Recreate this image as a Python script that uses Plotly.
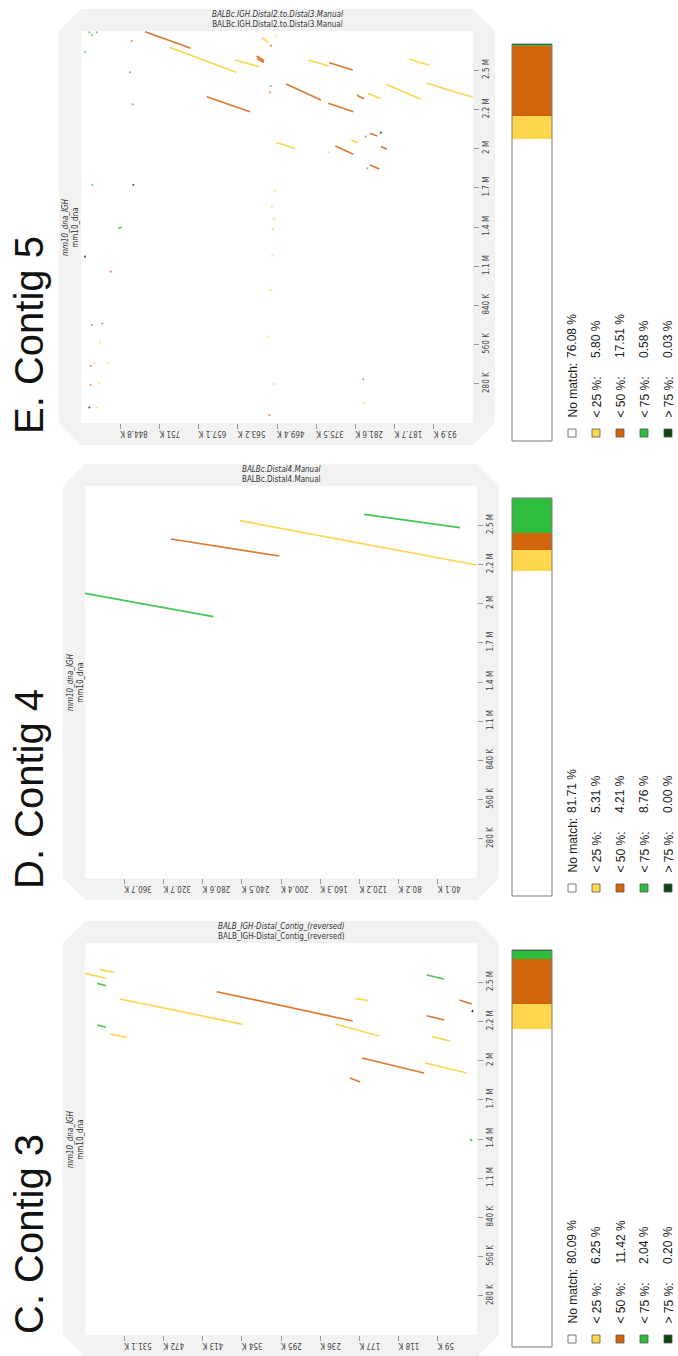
import plotly.graph_objects as go

# ---------------------------------------------------------------- data (kb)
# reference (mm10_dna_IGH) length and tick labels, shared by all panels
REF_LEN = 2800.0
REF_TICK_LABELS = ["280 K", "560 K", "840 K", "1.1 M", "1.4 M", "1.7 M", "2 M", "2.2 M", "2.5 M"]

CLASS_NAMES = ["No match:", "< 25 %:", "< 50 %:", "< 75 %:", "> 75 %:"]
BAR_COLORS = ["#ffffff", "#fed74f", "#d2650c", "#2fbd3e", "#0b4410"]
LINE_COLORS = ["#ffffff", "#fdd650", "#dd7832", "#44c653", "#0b4410"]

# ---- E. Contig 5
E_QUERY_LEN = 938.7
E_QUERY_TICK_LABELS = ["93.9 K", "187.7 K", "281.6 K", "375.5 K", "469.4 K",
                       "563.2 K", "657.1 K", "751 K", "844.8 K"]
E_PERCENT = [76.08, 5.80, 17.51, 0.58, 0.03]
E_LT25_SEG = [(727.2, 2683.6, 567.5, 2505.0), (569.9, 2592.9, 511.7, 2545.0),
              (506.0, 2755.0, 490.2, 2716.4), (394.4, 2592.9, 346.5, 2552.1),
              (152.5, 2597.9, 104.6, 2555.0), (208.3, 2419.3, 124.5, 2312.1),
              (110.9, 2426.4, 0.7, 2326.4), (252.2, 2355.0, 221.0, 2316.4),
              (471.7, 2003.6, 426.2, 1962.1), (292.9, 2021.4, 275.4, 2002.1)]
E_LT25_DOT = [(471.7, 2766.4), (345.5, 1933.6), (474.1, 1659.3), (482.0, 1545.0),
              (476.5, 1457.1), (479.6, 1383.6), (480.6, 1195.0), (484.4, 950.0),
              (490.2, 616.4), (893.2, 576.4), (906.8, 426.4), (875.7, 426.4),
              (894.9, 283.6), (901.1, 110.7), (475.8, 278.6), (262.7, 140.7)]
E_LT50_SEG = [(785.4, 2795.0, 676.0, 2676.4), (518.0, 2621.4, 500.5, 2587.9),
              (517.2, 2603.6, 500.5, 2575.0), (344.1, 2573.6, 288.1, 2521.4),
              (447.8, 2421.4, 364.0, 2307.1), (637.7, 2330.7, 534.0, 2223.6),
              (346.5, 2283.6, 286.6, 2223.6), (276.1, 2337.9, 261.0, 2316.4),
              (246.6, 2069.3, 229.2, 2050.0), (329.7, 1978.6, 286.6, 1919.3),
              (221.0, 1975.0, 206.7, 1955.0), (246.6, 1842.9, 224.4, 1814.3)]
E_LT50_DOT = [(483.7, 2695.0), (486.1, 2362.1), (901.1, 2790.7), (817.3, 2728.6),
              (821.3, 2505.0), (814.9, 2276.4), (867.6, 1080.7), (913.1, 700.0),
              (887.7, 710.7), (915.5, 407.1), (915.5, 271.4), (487.8, 57.1),
              (262.7, 312.1)]
E_LT75_SEG = [(849.4, 1390.7, 841.2, 1397.9)]
E_LT75_DOT = [(276.1, 2340.7), (484.4, 2407.1), (918.8, 2790.7), (912.3, 2771.4),
              (929.1, 2647.9), (256.9, 2045.0), (253.1, 1819.3), (911.6, 1700.0)]
E_GT75_SEG = []
E_GT75_DOT = [(221.0, 2073.6), (813.4, 1700.0), (929.1, 1187.9), (918.8, 110.7)]

# ---- D. Contig 4
D_QUERY_LEN = 400.82
D_QUERY_TICK_LABELS = ["40.1 K", "80.2 K", "120.2 K", "160.3 K", "200.4 K",
                       "240.5 K", "280.6 K", "320.7 K", "360.7 K"]
D_PERCENT = [81.71, 5.31, 4.21, 8.76, 0.00]
D_LT25_SEG = [(242.3, 2552.1, 0.3, 2235.7)]
D_LT50_SEG = [(312.9, 2421.4, 202.1, 2300.0)]
D_LT75_SEG = [(400.8, 2033.6, 269.6, 1866.4), (115.5, 2597.9, 17.4, 2502.1)]
D_GT75_SEG = []

# ---- C. Contig 3
C_QUERY_LEN = 590.1
C_QUERY_TICK_LABELS = ["59 K", "118 K", "177 K", "236 K", "295 K",
                       "354 K", "413 K", "472 K", "531.1 K"]
C_PERCENT = [80.09, 6.25, 11.42, 2.04, 0.20]
C_LT25_SEG = [(590.1, 2583.6, 558.5, 2547.9), (567.5, 2609.3, 546.4, 2590.7),
              (537.4, 2400.0, 352.7, 2219.3), (183.2, 2405.0, 163.6, 2387.9),
              (552.5, 2150.0, 527.3, 2126.4), (213.3, 2221.4, 147.1, 2135.7),
              (67.3, 2130.7, 40.6, 2100.0), (78.3, 1942.9, 15.1, 1871.4)]
C_LT50_SEG = [(391.8, 2452.1, 187.1, 2242.9), (26.6, 2392.9, 8.0, 2364.3),
              (75.7, 2280.7, 49.7, 2250.0), (173.1, 1978.6, 79.8, 1871.4),
              (191.2, 1835.7, 176.1, 1807.1)]
C_LT75_SEG = [(571.6, 2512.1, 558.5, 2495.0), (75.7, 2571.4, 49.7, 2542.9),
              (571.6, 2214.3, 558.5, 2197.9), (10.5, 1400.0, 7.5, 1385.7)]
C_GT75_SEG = [(7.5, 2307.0, 6.0, 2321.0)]

# ---------------------------------------------------------------- layout helpers
W, H = 678, 1356
NARROW = "Liberation Sans Narrow, DejaVu Sans Condensed, Arial Narrow, sans-serif"
SANS = "Liberation Sans, Arial, Helvetica, sans-serif"


def fx(x):
    return x / W


def fy(y):
    return 1 - y / H


PANELS = [
    dict(title="E. Contig 5", name="BALBc.IGH.Distal2.to.Distal3.Manual",
         qlen=E_QUERY_LEN, qlabels=E_QUERY_TICK_LABELS, pct=E_PERCENT,
         segs=[E_LT25_SEG, E_LT50_SEG, E_LT75_SEG, E_GT75_SEG],
         dots=[E_LT25_DOT, E_LT50_DOT, E_LT75_DOT, E_GT75_DOT],
         plot=(81, 31, 473, 423), bar=(512, 44, 552, 441), title_bottom=436),
    dict(title="D. Contig 4", name="BALBc.Distal4.Manual",
         qlen=D_QUERY_LEN, qlabels=D_QUERY_TICK_LABELS, pct=D_PERCENT,
         segs=[D_LT25_SEG, D_LT50_SEG, D_LT75_SEG, D_GT75_SEG],
         dots=[[], [], [], []],
         plot=(85, 486, 477, 878), bar=(512, 498, 552, 896), title_bottom=891),
    dict(title="C. Contig 3", name="BALB_IGH-Distal_Contig_(reversed)",
         qlen=C_QUERY_LEN, qlabels=C_QUERY_TICK_LABELS, pct=C_PERCENT,
         segs=[C_LT25_SEG, C_LT50_SEG, C_LT75_SEG, C_GT75_SEG],
         dots=[[], [], [], []],
         plot=(85, 943, 477, 1335), bar=(512, 950, 552, 1347), title_bottom=1336),
]

fig = go.Figure()
shapes, annotations = [], []
layout_axes = {}
FRAME = 22
LEGEND_X = [572, 596, 620, 644, 668]

for i, p in enumerate(PANELS):
    ax_plot = 2 * i + 1
    ax_bar = 2 * i + 2
    xs_p = "x" if ax_plot == 1 else f"x{ax_plot}"
    ys_p = "y" if ax_plot == 1 else f"y{ax_plot}"
    xs_b, ys_b = f"x{ax_bar}", f"y{ax_bar}"
    x0, y0, x1, y1 = p["plot"]

    # light grey frame with chamfered corners around the dot plot
    ox0, oy0, ox1, oy1 = x0 - FRAME, y0 - FRAME, x1 + FRAME, y1 + FRAME
    c = FRAME
    pts = [(ox0 + c, oy0), (ox1 - c, oy0), (ox1, oy0 + c), (ox1, oy1 - c),
           (ox1 - c, oy1), (ox0 + c, oy1), (ox0, oy1 - c), (ox0, oy0 + c)]
    path = "M " + " L ".join(f"{fx(a):.5f},{fy(b):.5f}" for a, b in pts) + " Z"
    shapes.append(dict(type="path", path=path, xref="paper", yref="paper",
                       fillcolor="#f2f2f2", line=dict(width=0), layer="below"))
    shapes.append(dict(type="rect", xref="paper", yref="paper",
                       x0=fx(x0), x1=fx(x1), y0=fy(y1), y1=fy(y0),
                       fillcolor="#ffffff", line=dict(width=0), layer="below"))

    # alignment segments and isolated hits, one trace per identity class
    for k in range(4):
        xs, ys = [], []
        for q0, r0, q1, r1 in p["segs"][k]:
            xs += [q0, q1, None]
            ys += [r0, r1, None]
        if xs:
            fig.add_trace(go.Scatter(x=xs, y=ys, mode="lines", xaxis=xs_p, yaxis=ys_p,
                                     line=dict(color=LINE_COLORS[k + 1], width=1.7),
                                     hoverinfo="skip", showlegend=False))
        if p["dots"][k]:
            fig.add_trace(go.Scatter(x=[d[0] for d in p["dots"][k]],
                                     y=[d[1] for d in p["dots"][k]],
                                     mode="markers", xaxis=xs_p, yaxis=ys_p,
                                     marker=dict(color=LINE_COLORS[k + 1], size=2.2,
                                                 opacity=0.8, line=dict(width=0)),
                                     hoverinfo="skip", showlegend=False))

    qticks = [p["qlen"] * j / 10 for j in range(1, 10)]
    rticks = [REF_LEN * j / 10 for j in range(1, 10)]
    tick_font = dict(family=NARROW, size=8, color="#444444")
    layout_axes["xaxis" if ax_plot == 1 else f"xaxis{ax_plot}"] = dict(
        domain=[fx(x0), fx(x1)], anchor=ys_p, range=[p["qlen"], 0],
        tickvals=qticks, ticktext=p["qlabels"], tickangle=180,
        ticks="outside", ticklen=5, tickcolor="#9a9a9a", tickwidth=1,
        tickfont=tick_font, showgrid=False, zeroline=False, showline=False)
    layout_axes["yaxis" if ax_plot == 1 else f"yaxis{ax_plot}"] = dict(
        domain=[fy(y1), fy(y0)], anchor=xs_p, side="right", range=[0, REF_LEN],
        tickvals=rticks, ticktext=REF_TICK_LABELS, tickangle=-90,
        ticks="outside", ticklen=5, tickcolor="#9a9a9a", tickwidth=1,
        tickfont=tick_font, showgrid=False, zeroline=False, showline=False)

    # stacked identity bar
    bx0, by0, bx1, by1 = p["bar"]
    for k in range(5):
        fig.add_trace(go.Bar(x=[0], y=[p["pct"][k]], width=1, xaxis=xs_b, yaxis=ys_b,
                             marker=dict(color=BAR_COLORS[k], line=dict(width=0)),
                             hoverinfo="skip", showlegend=False))
    layout_axes[f"xaxis{ax_bar}"] = dict(domain=[fx(bx0), fx(bx1)], anchor=ys_b,
                                         range=[-0.5, 0.5], visible=False)
    layout_axes[f"yaxis{ax_bar}"] = dict(domain=[fy(by1), fy(by0)], anchor=xs_b,
                                         range=[0, 100], visible=False)
    shapes.append(dict(type="rect", xref="paper", yref="paper",
                       x0=fx(bx0), x1=fx(bx1), y0=fy(by1), y1=fy(by0),
                       line=dict(color="#7a7a7a", width=1), fillcolor="rgba(0,0,0,0)",
                       layer="above"))

    # legend of identity classes
    for k in range(5):
        lx = LEGEND_X[k]
        sq = by1 - 8
        shapes.append(dict(type="rect", xref="paper", yref="paper",
                           x0=fx(lx - 4), x1=fx(lx + 4), y0=fy(sq + 4), y1=fy(sq - 4),
                           fillcolor=BAR_COLORS[k], line=dict(color="#555555", width=0.8)))
        annotations.append(dict(x=fx(lx), y=fy(by1 - 21), xref="paper", yref="paper",
                                text=CLASS_NAMES[k], textangle=-90, showarrow=False,
                                xanchor="center", yanchor="bottom",
                                font=dict(family=SANS, size=12, color="#1a1a1a")))
        annotations.append(dict(x=fx(lx), y=fy(by1 - 81), xref="paper", yref="paper",
                                text=f"{p['pct'][k]:.2f} %", textangle=-90, showarrow=False,
                                xanchor="center", yanchor="bottom",
                                font=dict(family=SANS, size=12, color="#1a1a1a")))

    # sequence names
    annotations.append(dict(x=fx((x0 + x1) / 2), y=fy(y0 - 11.5), xref="paper", yref="paper",
                            text=f"<i>{p['name']}</i><br>{p['name']}", showarrow=False,
                            xanchor="center", yanchor="middle",
                            font=dict(family=NARROW, size=8, color="#333333")))
    annotations.append(dict(x=fx(x0 - 10), y=fy((y0 + y1) / 2), xref="paper", yref="paper",
                            text="<i>mm10_dna_IGH</i><br>mm10_dna", textangle=-90,
                            showarrow=False, xanchor="center", yanchor="middle",
                            font=dict(family=NARROW, size=8, color="#333333")))
    # panel title
    annotations.append(dict(x=fx(29), y=fy(p["title_bottom"]), xref="paper", yref="paper",
                            text=p["title"], textangle=-90, showarrow=False,
                            xanchor="center", yanchor="bottom",
                            font=dict(family=SANS, size=40, color="#111111")))

fig.update_layout(width=W, height=H, margin=dict(l=0, r=0, t=0, b=0),
                  paper_bgcolor="#ffffff", plot_bgcolor="#ffffff",
                  barmode="stack", bargap=0, showlegend=False,
                  shapes=shapes, annotations=annotations, **layout_axes)

fig.write_html("out.html")
